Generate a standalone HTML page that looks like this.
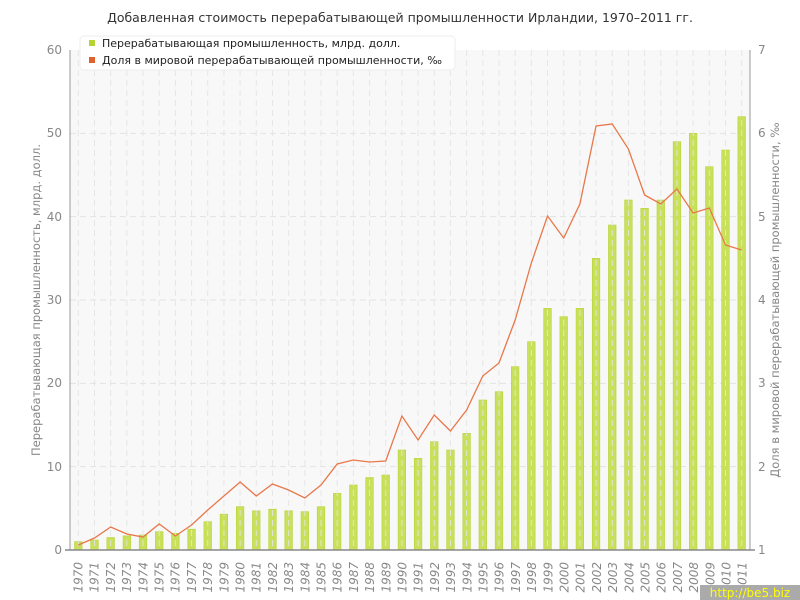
<!DOCTYPE html>
<html><head><meta charset="utf-8"><style>
body{margin:0;background:#fff}
svg{display:block;font-family:"DejaVu Sans","Liberation Sans",sans-serif}
</style></head><body>
<svg id="s" width="800" height="600" xmlns="http://www.w3.org/2000/svg">
<rect x="70" y="50" width="680" height="500" fill="#f8f8f8"/>
<g id="grid"></g>
<g id="bars"></g>
<g id="vg"></g>
<polyline id="ln" fill="none" stroke="#e8784a" stroke-width="1.3"/>
<line x1="70" y1="50" x2="70" y2="550" stroke="#999"/>
<line x1="750" y1="50" x2="750" y2="550" stroke="#999"/>
<line x1="65" y1="550" x2="755" y2="550" stroke="#888" stroke-width="1.5"/>
<text x="400" y="22" text-anchor="middle" font-size="12.5" fill="#333">Добавленная стоимость перерабатывающей промышленности Ирландии, 1970–2011 гг.</text>
<g font-size="12" fill="#888" text-anchor="end">
<text x="62" y="554">0</text><text x="62" y="471">10</text><text x="62" y="387">20</text><text x="62" y="304">30</text><text x="62" y="221">40</text><text x="62" y="137">50</text><text x="62" y="54">60</text>
</g>
<g font-size="12" fill="#888">
<text x="758" y="554">1</text><text x="758" y="471">2</text><text x="758" y="387">3</text><text x="758" y="304">4</text><text x="758" y="221">5</text><text x="758" y="137">6</text><text x="758" y="54">7</text>
</g>
<text transform="translate(40,300) rotate(-90)" text-anchor="middle" font-size="11.5" fill="#888">Перерабатывающая промышленность, млрд. долл.</text>
<text transform="translate(779,300) rotate(-90)" text-anchor="middle" font-size="11.5" fill="#888">Доля в мировой перерабатывающей промышленности, ‰</text>
<g id="yrs" font-size="12" fill="#888" text-anchor="end" font-style="italic">
<text transform="translate(82.5,562) rotate(-90)">1970</text><text transform="translate(98.7,562) rotate(-90)">1971</text><text transform="translate(114.9,562) rotate(-90)">1972</text><text transform="translate(131.1,562) rotate(-90)">1973</text><text transform="translate(147.3,562) rotate(-90)">1974</text><text transform="translate(163.5,562) rotate(-90)">1975</text><text transform="translate(179.7,562) rotate(-90)">1976</text><text transform="translate(195.9,562) rotate(-90)">1977</text><text transform="translate(212.1,562) rotate(-90)">1978</text><text transform="translate(228.3,562) rotate(-90)">1979</text><text transform="translate(244.5,562) rotate(-90)">1980</text><text transform="translate(260.7,562) rotate(-90)">1981</text><text transform="translate(276.9,562) rotate(-90)">1982</text><text transform="translate(293.1,562) rotate(-90)">1983</text><text transform="translate(309.3,562) rotate(-90)">1984</text><text transform="translate(325.5,562) rotate(-90)">1985</text><text transform="translate(341.7,562) rotate(-90)">1986</text><text transform="translate(357.9,562) rotate(-90)">1987</text><text transform="translate(374.1,562) rotate(-90)">1988</text><text transform="translate(390.3,562) rotate(-90)">1989</text><text transform="translate(406.5,562) rotate(-90)">1990</text><text transform="translate(422.7,562) rotate(-90)">1991</text><text transform="translate(438.9,562) rotate(-90)">1992</text><text transform="translate(455.1,562) rotate(-90)">1993</text><text transform="translate(471.3,562) rotate(-90)">1994</text><text transform="translate(487.5,562) rotate(-90)">1995</text><text transform="translate(503.7,562) rotate(-90)">1996</text><text transform="translate(519.9,562) rotate(-90)">1997</text><text transform="translate(536.1,562) rotate(-90)">1998</text><text transform="translate(552.3,562) rotate(-90)">1999</text><text transform="translate(568.5,562) rotate(-90)">2000</text><text transform="translate(584.7,562) rotate(-90)">2001</text><text transform="translate(600.9,562) rotate(-90)">2002</text><text transform="translate(617.1,562) rotate(-90)">2003</text><text transform="translate(633.3,562) rotate(-90)">2004</text><text transform="translate(649.5,562) rotate(-90)">2005</text><text transform="translate(665.7,562) rotate(-90)">2006</text><text transform="translate(681.9,562) rotate(-90)">2007</text><text transform="translate(698.1,562) rotate(-90)">2008</text><text transform="translate(714.3,562) rotate(-90)">2009</text><text transform="translate(730.5,562) rotate(-90)">2010</text><text transform="translate(746.7,562) rotate(-90)">2011</text>
</g>
<rect x="80" y="36" width="375" height="34" rx="4" fill="#fff" stroke="#eee"/>
<rect x="89" y="40" width="6" height="6" fill="#b5d334"/>
<text x="102" y="47" font-size="11" fill="#222">Перерабатывающая промышленность, млрд. долл.</text>
<rect x="89" y="57" width="6" height="6" fill="#e0602e"/>
<text x="102" y="64" font-size="11" fill="#222">Доля в мировой перерабатывающей промышленности, ‰</text>
<rect x="700" y="585" width="100" height="15" fill="#aaa"/>
<text x="750" y="597" text-anchor="middle" font-size="12" fill="#ff0">http://be5.biz</text>
</svg>
<script>
var ns="http://www.w3.org/2000/svg";
function el(p,t,a){var e=document.createElementNS(ns,t);for(var k in a)e.setAttribute(k,a[k]);document.getElementById(p).appendChild(e);}
var v=[1.0,1.2,1.5,1.7,1.8,2.2,2.0,2.5,3.4,4.3,5.2,4.7,4.9,4.7,4.6,5.2,6.8,7.8,8.7,9.0,12,11,13,12,14,18,19,22,25,29,28,29,35,39,42,41,42,49,50,46,48,52];
var l=[545,538,527,534,537,524,536,525,510,496,482,496,484,490,498,485,464,460,462,461,416,440,415,431,410,376,363,320,263,216,238,204,126,124,149,195,204,189,213,208,245,250];
for(var i=1;i<6;i++){var y=550-i*83.333;el("grid","line",{x1:70,x2:750,y1:y,y2:y,stroke:"#e2e2e2","stroke-dasharray":"6,4"});}
var pts=[];
for(var i=0;i<42;i++){var x=78.3+i*16.18;
el("vg","line",{x1:x,x2:x,y1:50,y2:550,stroke:"#e4e4e4","stroke-opacity":"0.9","stroke-dasharray":"6,4"});
var h=v[i]*8.333;el("bars","rect",{x:x-3.8,y:550-h,width:7.6,height:h,fill:"#c8e05a",stroke:"#b8d33a","stroke-width":"0.6"});
pts.push(x+","+l[i]);}
document.getElementById("ln").setAttribute("points",pts.join(" "));
</script>
</body></html>
